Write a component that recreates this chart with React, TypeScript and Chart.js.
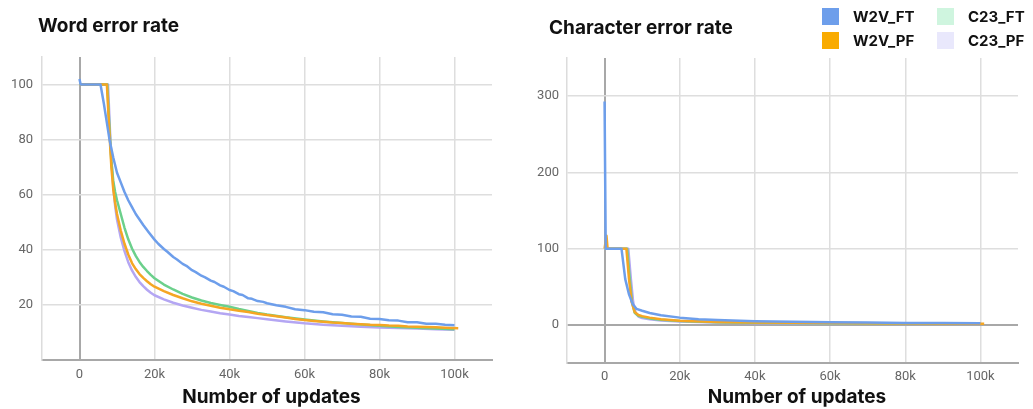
import React, { useEffect, useRef } from 'react';
import { Chart, registerables } from 'chart.js';

Chart.register(...registerables);

// ---------- data ----------
const SERIES_NAMES = ['W2V_FT', 'W2V_PF', 'C23_FT', 'C23_PF'];
const LINE_COLORS = ['#6d9eeb', '#f5a623', '#6bd08b', '#b4a6f3'];
const LEGEND_COLORS = ['#6d9eeb', '#f9ab00', '#cff5df', '#e9e8fc'];

const X_TICKS = [0, 20000, 40000, 60000, 80000, 100000];
const WER_Y_TICKS = [0, 20, 40, 60, 80, 100];
const CER_Y_TICKS = [0, 100, 200, 300];

const WER_W2V_FT: [number, number][] = [
  [0, 102], [300, 100], [5600, 100], [6500, 93], [7200, 87], [8000, 80], [9000, 73.5], [10000, 68],
  [11000, 64.5], [12000, 61], [13000, 58], [14000, 55.5], [15000, 53], [16000, 51], [17000, 49],
  [18500, 46.3], [20000, 43.7], [21000, 42.2], [22500, 40.3], [23500, 39.2], [25000, 37.4], [26000, 36.5],
  [27500, 34.9], [28500, 34.2], [30000, 32.6], [31000, 31.9], [32500, 30.6], [33500, 30.0], [35000, 28.8],
  [36000, 28.3], [37500, 27.1], [38500, 26.6], [40000, 25.4], [41000, 25.0], [42500, 23.9], [43500, 23.6],
  [45000, 22.4], [46000, 22.2], [47500, 21.4], [49000, 21.1], [50000, 20.6], [52500, 19.9], [55000, 19.3],
  [57500, 18.4], [60000, 18.1], [62500, 17.5], [65000, 17.3], [67500, 16.6], [70000, 16.4], [72500, 15.8],
  [75000, 15.7], [77500, 15.0], [80000, 14.9], [82500, 14.4], [85000, 14.3], [87500, 13.7], [90000, 13.7],
  [92500, 13.2], [95000, 13.2], [97500, 12.8], [100000, 12.6],
];
const WER_W2V_PF: [number, number][] = [
  [0, 100], [7300, 100], [8000, 82], [8500, 70], [9000, 62], [9500, 57], [10000, 53], [11000, 47],
  [12000, 42.2], [13000, 38.3], [14000, 35.2], [15000, 33], [16000, 31.2], [17000, 29.8], [18000, 28.6],
  [19000, 27.5], [20000, 26.6], [22500, 25], [25000, 23.6], [27500, 22.4], [30000, 21.3], [32500, 20.4],
  [35000, 19.7], [37500, 19], [40000, 18.4], [42500, 17.9], [45000, 17.4], [47500, 16.8], [50000, 16.3],
  [52500, 15.9], [55000, 15.4], [57500, 14.9], [60000, 14.5], [62500, 14.2], [65000, 13.9], [67500, 13.6],
  [70000, 13.4], [72500, 13.2], [75000, 13], [77500, 12.8], [80000, 12.7], [82500, 12.5], [85000, 12.4],
  [87500, 12.2], [90000, 12.1], [92500, 12], [95000, 11.9], [97500, 11.7], [101000, 11.5],
];
const WER_C23_FT: [number, number][] = [
  [0, 100], [7400, 100], [8000, 84], [8500, 72], [9000, 65], [9500, 61], [10000, 58], [11000, 53],
  [12000, 48], [13000, 43.8], [14000, 40.5], [15000, 37.8], [16000, 35.6], [17000, 33.8], [18000, 32.3],
  [19000, 30.9], [20000, 29.7], [22500, 27.4], [25000, 25.6], [27500, 24], [30000, 22.7], [32500, 21.6],
  [35000, 20.7], [37500, 20], [40000, 19.3], [42500, 18.5], [45000, 17.8], [47500, 17.1], [50000, 16.5],
  [55000, 15.5], [60000, 14.7], [65000, 14], [70000, 13.4], [75000, 12.9], [80000, 12.4], [85000, 12.0],
  [90000, 11.7], [95000, 11.4], [100000, 11.2],
];
const WER_C23_PF: [number, number][] = [
  [0, 100], [7600, 100], [8100, 84], [8500, 73], [9000, 63], [9500, 56], [10000, 51], [11000, 44.5],
  [12000, 39.5], [13000, 35.5], [14000, 32.5], [15000, 30.2], [16000, 28.3], [17000, 26.8], [18000, 25.5],
  [19000, 24.4], [20000, 23.5], [22500, 22], [25000, 20.8], [27500, 19.8], [30000, 19], [32500, 18.2],
  [35000, 17.6], [37500, 17], [40000, 16.5], [42500, 16], [45000, 15.6], [47500, 15.2], [50000, 14.8],
  [55000, 14], [60000, 13.3], [65000, 12.8], [70000, 12.4], [75000, 12.1], [80000, 11.8], [85000, 11.6],
  [90000, 11.4], [95000, 11.2], [100000, 11.0],
];

const CER_W2V_FT: [number, number][] = [
  [0, 293], [300, 100], [4500, 100], [5000, 80], [5500, 60], [6500, 40], [7500, 27], [8500, 21],
  [10000, 18.5], [12000, 15.5], [15000, 12.5], [20000, 9.5], [25000, 7.5], [30000, 6.3], [40000, 4.8],
  [50000, 4], [60000, 3.4], [70000, 3], [80000, 2.6], [90000, 2.3], [100000, 2],
];
const CER_W2V_PF: [number, number][] = [
  [0, 100], [500, 117], [800, 100], [5800, 100], [6500, 60], [7200, 30], [8000, 17], [9000, 13],
  [10000, 11.5], [12000, 9.5], [15000, 7.5], [20000, 5.5], [30000, 3.8], [40000, 3], [60000, 2.3],
  [80000, 1.9], [101000, 1.6],
];
const CER_C23_FT: [number, number][] = [
  [0, 100], [6000, 100], [6700, 60], [7300, 30], [8000, 16], [9000, 12], [10000, 10.5], [12000, 8.5],
  [15000, 6.8], [20000, 5], [30000, 3.5], [40000, 2.8], [60000, 2.1], [80000, 1.7], [100000, 1.5],
];
const CER_C23_PF: [number, number][] = [
  [0, 100], [6300, 100], [7000, 60], [7600, 30], [8300, 15], [9000, 11], [10000, 9], [12000, 7.3],
  [15000, 5.8], [20000, 4.3], [30000, 3], [40000, 2.4], [60000, 1.9], [80000, 1.6], [100000, 1.4],
];

const WER_SERIES = [WER_W2V_FT, WER_W2V_PF, WER_C23_FT, WER_C23_PF];
const CER_SERIES = [CER_W2V_FT, CER_W2V_PF, CER_C23_FT, CER_C23_PF];

// ---------- chart builder ----------
type Cfg = {
  series: [number, number][][];
  yMin: number;
  yMax: number;
  yTicks: number[];
  padTop: number;
  padRight: number;
  yWidth: number;
  xHeight: number;
  yPad: number;
  xPad: number;
  hideZero: boolean;
};

function buildConfig(c: Cfg): any {
  const zeroColor = (ctx: any) => (ctx.tick && ctx.tick.value === 0 ? '#a8a8a8' : '#dedede');
  const zeroWidth = (ctx: any) => (ctx.tick && ctx.tick.value === 0 ? 2 : 1.5);
  return {
    type: 'line',
    data: {
      datasets: c.series.map((s, i) => ({
        label: SERIES_NAMES[i],
        data: s.map(([x, y]) => ({ x, y })),
        borderColor: LINE_COLORS[i],
        backgroundColor: LINE_COLORS[i],
        borderWidth: 2.5,
        pointRadius: 0,
        tension: 0,
        borderJoinStyle: 'round',
        fill: false,
      })),
    },
    options: {
      animation: false,
      responsive: false,
      devicePixelRatio: 1,
      events: [],
      layout: { padding: { top: c.padTop, left: 0, right: c.padRight, bottom: 0 } },
      plugins: { legend: { display: false }, tooltip: { enabled: false }, title: { display: false } },
      scales: {
        x: {
          type: 'linear',
          min: -10000,
          max: 110000,
          afterBuildTicks: (scale: any) => {
            scale.ticks = X_TICKS.map((v) => ({ value: v }));
          },
          afterFit: (scale: any) => {
            scale.height = c.xHeight;
          },
          grid: { color: zeroColor, lineWidth: zeroWidth, drawTicks: false },
          border: { display: true, color: '#a8a8a8', width: 2 },
          ticks: {
            padding: c.xPad,
            maxRotation: 0,
            autoSkip: false,
            color: '#666666',
            font: { family: 'Roboto', size: 13 },
            callback: (v: number) => (v === 0 ? '0' : v / 1000 + 'k'),
          },
          title: {
            display: true,
            text: '  Number of updates',
            color: '#111111',
            font: { family: 'Inter', weight: 'bold', size: 19 },
            padding: { top: 0, bottom: 0 },
          },
        },
        y: {
          type: 'linear',
          min: c.yMin,
          max: c.yMax,
          afterBuildTicks: (scale: any) => {
            scale.ticks = c.yTicks.map((v) => ({ value: v }));
          },
          afterFit: (scale: any) => {
            scale.width = c.yWidth;
          },
          grid: { color: zeroColor, lineWidth: zeroWidth, drawTicks: false },
          border: { display: true, color: '#dcdcdc', width: 1.5 },
          ticks: {
            padding: c.yPad,
            autoSkip: false,
            color: '#666666',
            font: { family: 'Roboto', size: 13 },
            callback: (v: number) => (c.hideZero && v === 0 ? '' : String(v)),
          },
        },
      },
    },
  };
}

function LineChart({ cfg, left, width }: { cfg: Cfg; left: number; width: number }) {
  const ref = useRef<HTMLCanvasElement | null>(null);
  useEffect(() => {
    if (!ref.current) return;
    const chart = new Chart(ref.current, buildConfig(cfg));
    return () => chart.destroy();
  }, []);
  return (
    <canvas
      ref={ref}
      width={width}
      height={409}
      style={{ position: 'absolute', left, top: 0, width, height: 409 }}
    />
  );
}

const WER_CFG: Cfg = {
  series: WER_SERIES, yMin: 0, yMax: 110, yTicks: WER_Y_TICKS,
  padTop: 57, padRight: 28, yWidth: 42, xHeight: 49, yPad: 9, xPad: 7, hideZero: true,
};
const CER_CFG: Cfg = {
  series: CER_SERIES, yMin: -50, yMax: 350, yTicks: CER_Y_TICKS,
  padTop: 58, padRight: 15, yWidth: 47, xHeight: 46, yPad: 8, xPad: 6, hideZero: false,
};

const titleStyle: React.CSSProperties = {
  position: 'absolute',
  fontFamily: 'Inter, Roboto, sans-serif',
  fontWeight: 700,
  fontSize: 19,
  lineHeight: '22px',
  color: '#111',
  whiteSpace: 'nowrap',
};

const LEGEND_POS = [
  { x: 822, y: 8 },
  { x: 822, y: 32 },
  { x: 937, y: 8 },
  { x: 937, y: 32 },
];

export default function App() {
  return (
    <div style={{ position: 'absolute', left: 0, top: 0, width: 1033, height: 409, background: '#fff', overflow: 'hidden' }}>
      <LineChart cfg={WER_CFG} left={0} width={520} />
      <LineChart cfg={CER_CFG} left={520} width={513} />
      <div style={{ ...titleStyle, left: 38, top: 15 }}>Word error rate</div>
      <div style={{ ...titleStyle, left: 549, top: 17 }}>Character error rate</div>
      {SERIES_NAMES.map((name, i) => (
        <React.Fragment key={name}>
          <div
            style={{
              position: 'absolute',
              left: LEGEND_POS[i].x,
              top: LEGEND_POS[i].y,
              width: 17,
              height: 17,
              background: LEGEND_COLORS[i],
            }}
          />
          <div
            style={{
              position: 'absolute',
              left: LEGEND_POS[i].x + 31,
              top: LEGEND_POS[i].y - 1,
              fontFamily: 'Inter, Roboto, sans-serif',
              fontWeight: 700,
              fontSize: 15,
              lineHeight: '19px',
              color: '#111',
              whiteSpace: 'nowrap',
            }}
          >
            {name}
          </div>
        </React.Fragment>
      ))}
    </div>
  );
}
